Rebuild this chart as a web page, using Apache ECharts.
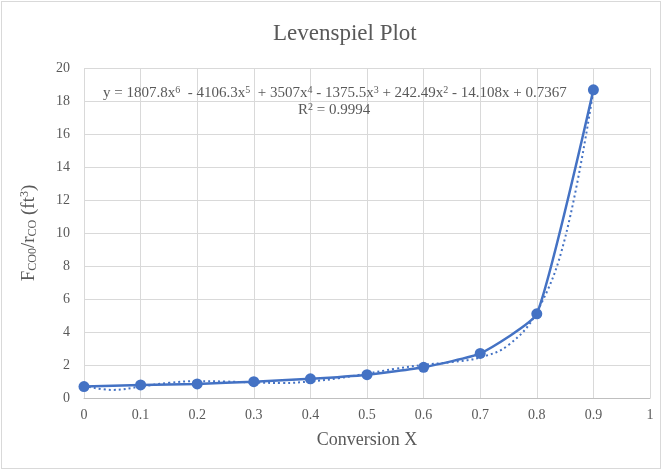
<!DOCTYPE html>
<html><head><meta charset="utf-8">
<script src="https://cdn.jsdelivr.net/npm/echarts@6/dist/echarts.min.js"></script>
<style>
html,body{margin:0;padding:0;background:#fff;}
#wrap{position:absolute;left:1px;top:1px;width:658px;height:466px;border:1px solid #d9d9d9;}
#c{width:662px;height:470px;position:absolute;left:0;top:0;}
</style></head>
<body><div id="wrap"></div><div id="c"></div>
<script>
// Data
const conversionX = [0, 0.1, 0.2, 0.3, 0.4, 0.5, 0.6, 0.7, 0.8, 0.9];
const fcoOverRco = [0.69, 0.79, 0.85, 0.99, 1.16, 1.41, 1.86, 2.7, 5.1, 18.68];
const trendX = [0, 0.05, 0.1, 0.15, 0.2, 0.25, 0.3, 0.35, 0.4, 0.45, 0.5, 0.55, 0.6, 0.65, 0.7, 0.75, 0.8, 0.85, 0.9];
const trendY = [0.74, 0.49, 0.69, 0.92, 1.02, 1.00, 0.94, 0.91, 1.00, 1.20, 1.48, 1.77, 2.01, 2.18, 2.46, 3.21, 5.21, 9.71, 18.67];
const xTicks = [0, 0.1, 0.2, 0.3, 0.4, 0.5, 0.6, 0.7, 0.8, 0.9, 1];
const yTicks = [0, 2, 4, 6, 8, 10, 12, 14, 16, 18, 20];

const serif = '"Liberation Serif", "Times New Roman", serif';
const txt = '#595959';
const blue = '#4472C4';

const chart = echarts.init(document.getElementById('c'));
const sup = {fontSize: 10, fontFamily: serif, fontWeight: 'normal', color: txt, padding: [0, 0, 7, 0]};
const nrm = {fontSize: 15, fontFamily: serif, fontWeight: 'normal', color: txt};
chart.setOption({
  animation: false,
  title: [
    {text: 'Levenspiel Plot', left: 268, top: 17,
     textStyle: {fontFamily: serif, fontSize: 23, fontWeight: 'normal', color: txt}},
    {text: '{n|y = 1807.8x}{p|6}{n|  - 4106.3x}{p|5}{n|  + 3507x}{p|4}{n| - 1375.5x}{p|3}{n| + 242.49x}{p|2}{n| - 14.108x + 0.7367}',
     left: 98, top: 80,
     textStyle: {fontWeight: 'normal', rich: {n: nrm, p: sup}}},
    {text: '{n|R}{p|2}{n| = 0.9994}', left: 293, top: 97,
     textStyle: {fontWeight: 'normal', rich: {n: nrm, p: sup}}}
  ],
  grid: {left: 84, right: 12, top: 68, bottom: 72, containLabel: false},
  xAxis: {
    type: 'value', min: 0, max: 1, interval: 0.1,
    name: 'Conversion X', nameLocation: 'middle', nameGap: 33,
    nameTextStyle: {fontFamily: serif, fontSize: 18, color: txt},
    axisLine: {show: true, lineStyle: {color: '#bfbfbf'}},
    axisTick: {show: false},
    axisLabel: {fontFamily: serif, fontSize: 14, color: txt, margin: 10,
      formatter: v => xTicks.includes(Math.round(v*10)/10) ? String(Math.round(v*10)/10) : ''},
    splitLine: {show: true, lineStyle: {color: '#d9d9d9'}}
  },
  yAxis: {
    type: 'value', min: 0, max: 20, interval: 2,
    name: '{n|F}{s|CO0}{n|/r}{s|CO}{n| (ft}{p|3}{n|)}',
    nameLocation: 'middle', nameGap: 44,
    nameTextStyle: {rich: {
      n: {fontFamily: serif, fontSize: 19, color: txt},
      s: {fontFamily: serif, fontSize: 12, color: txt, padding: [7, 0, 0, 0]},
      p: {fontFamily: serif, fontSize: 12, color: txt, padding: [0, 0, 9, 0]}
    }},
    axisLine: {show: false},
    axisTick: {show: false},
    axisLabel: {fontFamily: serif, fontSize: 14, color: txt, margin: 14,
      formatter: v => yTicks.includes(v) ? String(v) : ''},
    splitLine: {show: true, lineStyle: {color: '#d9d9d9'}}
  },
  series: [
    {type: 'line', data: trendX.map((x, i) => [x, trendY[i]]), smooth: 0.4, symbol: 'none',
     lineStyle: {color: blue, width: 2, type: [2, 3]}, z: 2},
    {type: 'line', data: conversionX.map((x, i) => [x, fcoOverRco[i]]), smooth: 0.15,
     symbol: 'circle', symbolSize: 11,
     itemStyle: {color: blue}, lineStyle: {color: blue, width: 2.5}, z: 3}
  ]
});
</script></body></html>
